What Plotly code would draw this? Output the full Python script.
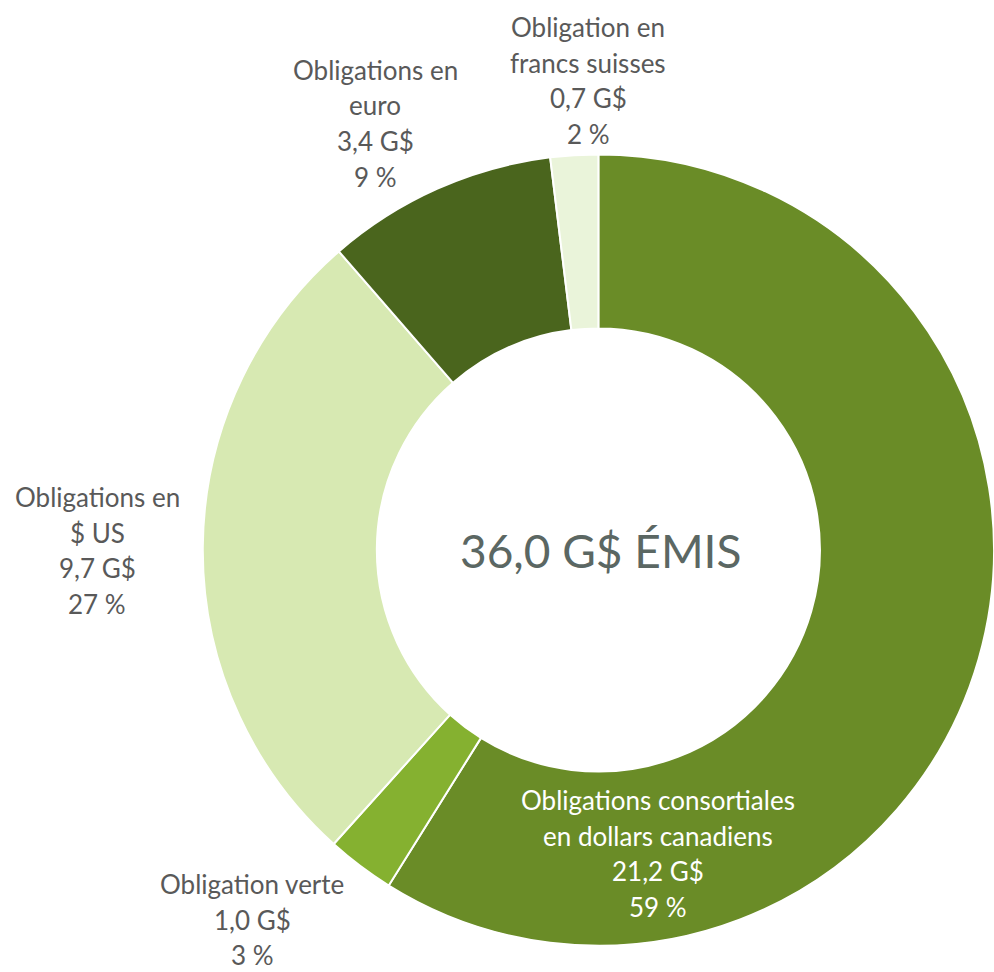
import plotly.graph_objects as go

# Data (clockwise from 12 o'clock)
categories = [
    "Obligations consortiales en dollars canadiens",
    "Obligation verte",
    "Obligations en $ US",
    "Obligations en euro",
    "Obligation en francs suisses",
]
values_gd = [21.2, 1.0, 9.7, 3.4, 0.7]
value_labels = ["21,2 G$", "1,0 G$", "9,7 G$", "3,4 G$", "0,7 G$"]
pct_labels = ["59 %", "3 %", "27 %", "9 %", "2 %"]
name_lines = [
    ["Obligations consortiales", "en dollars canadiens"],
    ["Obligation verte"],
    ["Obligations en", "$ US"],
    ["Obligations en", "euro"],
    ["Obligation en", "francs suisses"],
]
center_text = "36,0 G$ ÉMIS"

# Styles / positions (pixels in a 994x972 canvas)
colors = ["#6A8C27", "#85B130", "#D7E9B2", "#4A651D", "#EAF4DA"]
label_colors = ["#FFFFFF", "#595959", "#595959", "#595959", "#595959"]
label_pos = [(658, 800), (252, 884), (97, 497), (375, 70), (588, 27)]
line_step = 35.5

W, H = 994, 972
FONT = "Lato"

fig = go.Figure()
fig.add_trace(go.Pie(
    labels=categories,
    values=values_gd,
    sort=False,
    direction="clockwise",
    rotation=0,
    hole=0.56,
    marker=dict(colors=colors, line=dict(color="#FFFFFF", width=2)),
    textinfo="none",
    hoverinfo="label+value+percent",
    showlegend=False,
    domain=dict(x=[0.204, 1.0], y=[22 / H, 822 / H]),
))

annotations = []
for i, lines in enumerate(name_lines):
    all_lines = lines + [value_labels[i], pct_labels[i]]
    x0, y0 = label_pos[i]
    for j, t in enumerate(all_lines):
        yy = y0 + j * line_step
        annotations.append(dict(
            x=x0 / W, y=1 - yy / H, xref="paper", yref="paper",
            text=t, showarrow=False, xanchor="center", yanchor="middle",
            font=dict(family=FONT, size=26, color=label_colors[i]),
        ))

annotations.append(dict(
    x=600 / W, y=1 - 550 / H, xref="paper", yref="paper",
    text=center_text, showarrow=False, xanchor="center", yanchor="middle",
    font=dict(family=FONT, size=46, color="#5B6763"),
))

fig.update_layout(
    width=W, height=H,
    margin=dict(l=0, r=0, t=0, b=0),
    paper_bgcolor="#FFFFFF",
    plot_bgcolor="#FFFFFF",
    annotations=annotations,
)

fig.write_html("out.html", config={"displayModeBar": False},
               post_script="document.body.style.margin='0';")
